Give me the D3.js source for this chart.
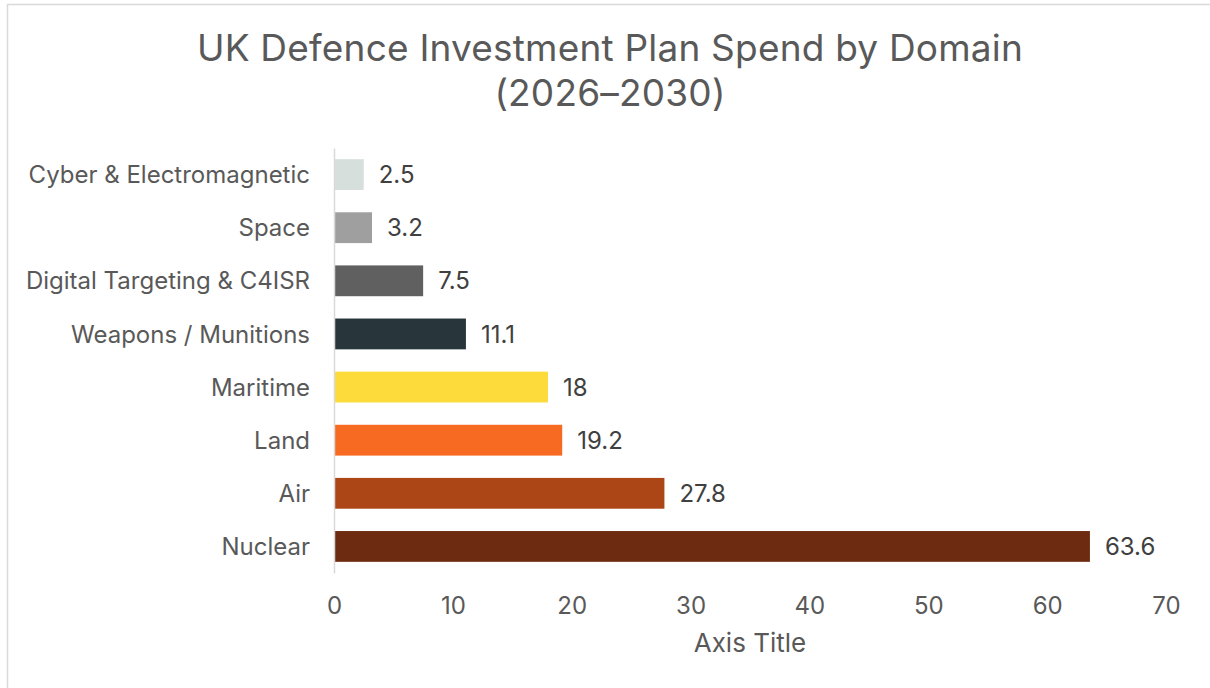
<!doctype html>
<html>
<head>
<meta charset="UTF-8">
<title>UK Defence Investment Plan Spend by Domain</title>
<style>
  html, body { margin: 0; padding: 0; background: #fff; }
  svg { display: block; }
  text { font-family: Inter, "Liberation Sans", Arial, sans-serif; }
</style>
</head>
<body>
<div id="chart"></div>
<script src="https://cdn.jsdelivr.net/npm/d3@7/dist/d3.min.js"></script>
<script>
  // data, top to bottom as drawn
  var categories = ["Cyber & Electromagnetic", "Space", "Digital Targeting & C4ISR",
    "Weapons / Munitions", "Maritime", "Land", "Air", "Nuclear"];
  var values = [2.5, 3.2, 7.5, 11.1, 18, 19.2, 27.8, 63.6];
  var barColors = ["#d7dfdc", "#9f9f9f", "#606060", "#28363c", "#fcdb3b", "#f66a21", "#ad4616", "#6d2c11"];
  var xTicks = [0, 10, 20, 30, 40, 50, 60, 70];
  var titleLines = ["UK Defence Investment Plan Spend by Domain", "(2026\u20132030)"];
  var axisTitle = "Axis Title";

  var W = 1210, H = 688;
  var m = { left: 334, right: 1166, top: 148, bottom: 573 };
  var font = "Inter, 'Liberation Sans', Arial, sans-serif";

  var svg = d3.select("#chart").append("svg")
    .attr("width", W)
    .attr("height", H);

  // chart border
  svg.append("rect")
    .attr("x", 7.5).attr("y", 4.5)
    .attr("width", 1220).attr("height", 700)
    .attr("fill", "#fff")
    .attr("stroke", "#d9d9d9")
    .attr("stroke-width", 1.5);

  var x = d3.scaleLinear().domain([0, 70]).range([m.left, m.right]);
  var y = d3.scaleBand().domain(categories).range([m.top, m.bottom]).paddingInner(0.42).paddingOuter(0.21);

  // title
  svg.append("g").selectAll("text")
    .data(titleLines)
    .join("text")
    .attr("x", 610)
    .attr("y", function(d, i) { return 61 + i * 45; })
    .attr("text-anchor", "middle")
    .attr("fill", "#595959")
    .style("font-size", "37px")
    .style("letter-spacing", "0.2px")
    .text(function(d) { return d; });

  // bars
  svg.append("g").selectAll("rect")
    .data(values)
    .join("rect")
    .attr("x", x(0))
    .attr("y", function(d, i) { return y(categories[i]); })
    .attr("width", function(d) { return x(d) - x(0); })
    .attr("height", y.bandwidth())
    .attr("fill", function(d, i) { return barColors[i]; });

  // value labels
  svg.append("g").selectAll("text")
    .data(values)
    .join("text")
    .attr("x", function(d) { return x(d) + 15; })
    .attr("y", function(d, i) { return y(categories[i]) + y.bandwidth() / 2; })
    .attr("dy", "0.36em")
    .attr("fill", "#404040")
    .style("font-size", "24px")
    .text(function(d) { return d; });

  // category axis
  var yAxis = svg.append("g")
    .attr("transform", "translate(" + m.left + ",0)")
    .call(d3.axisLeft(y).tickSize(0).tickPadding(24));
  yAxis.select(".domain").attr("stroke", "#d9d9d9").attr("stroke-width", 1.5);
  yAxis.selectAll("text")
    .attr("fill", "#595959")
    .attr("dy", "0.36em")
    .style("font-size", "24px")
    .style("font-family", font);

  // value axis
  var xAxis = svg.append("g")
    .attr("transform", "translate(0," + m.bottom + ")")
    .call(d3.axisBottom(x).tickValues(xTicks).tickSize(0).tickPadding(24));
  xAxis.select(".domain").remove();
  xAxis.selectAll("text")
    .attr("fill", "#595959")
    .style("font-size", "24px")
    .style("font-family", font);

  svg.append("text")
    .attr("x", (m.left + m.right) / 2)
    .attr("y", 652)
    .attr("text-anchor", "middle")
    .attr("fill", "#595959")
    .style("font-size", "26px")
    .text(axisTitle);
</script>
</body>
</html>
